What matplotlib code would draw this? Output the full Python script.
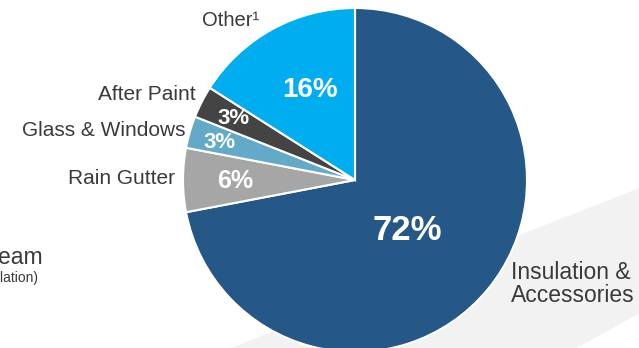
import matplotlib.pyplot as plt
from matplotlib.patches import Polygon

# data
labels = ["Insulation &\nAccessories", "Rain Gutter", "Glass & Windows", "After Paint", "Other\u00b9"]
values = [72, 6, 3, 3, 16]
colors = ["#255787", "#a6a6a6", "#62aac8", "#444444", "#00aeef"]

W, H = 639, 348
txt = "#3a3a3a"
pctfont = ["Liberation Sans Narrow", "Liberation Sans"]

fig = plt.figure(figsize=(W / 100, H / 100), dpi=100)
ax = fig.add_axes([0, 0, 1, 1])

# light grey band behind the pie (pixel coords, y from top)
band = [(200, 360), (660, 180), (660, 302), (555, 360)]
ax.add_patch(Polygon([(x, H - y) for x, y in band], closed=True,
                     facecolor="#f2f2f2", edgecolor="none", zorder=0))

wedges, _ = ax.pie(values, colors=colors, startangle=90, counterclock=False,
                   center=(355, H - 180), radius=172, frame=True,
                   wedgeprops=dict(edgecolor="white", linewidth=1.5))
for w in wedges:
    w.set_zorder(2)

# percentage labels
pct_pos = [(407, 231), (235, 181), (220, 143), (233, 118), (310, 90)]
pct_size = [25, 18, 16, 16, 20]
for v, (x, y), s in zip(values, pct_pos, pct_size):
    ax.text(x, H - y, f"{v}%", color="white", fontsize=s, fontweight="bold",
            family=pctfont, ha="center", va="center", zorder=3)

# category labels
lab_pos = [(511, 284, "left"), (175, 178, "right"), (186, 130, "right"),
           (196, 95, "right"), (259, 20, "right")]
lab_size = [16.5, 15, 15, 15, 14.5]
for lab, (x, y, ha), s in zip(labels, lab_pos, lab_size):
    ax.text(x, H - y, lab, color=txt, fontsize=s, ha=ha, va="center",
            family="Liberation Sans", linespacing=0.95, zorder=3)

# cut-off label on the left edge
ax.text(43, H - 258, "Downstream", color=txt, fontsize=16.5, ha="right",
        va="center", family="Liberation Sans")
ax.text(38, H - 278, "(Insulation)", color=txt, fontsize=10, ha="right",
        va="center", family="Liberation Sans")

ax.set_xlim(0, W)
ax.set_ylim(0, H)
ax.set_aspect("equal")
ax.axis("off")

plt.savefig("out.png", dpi=100)
